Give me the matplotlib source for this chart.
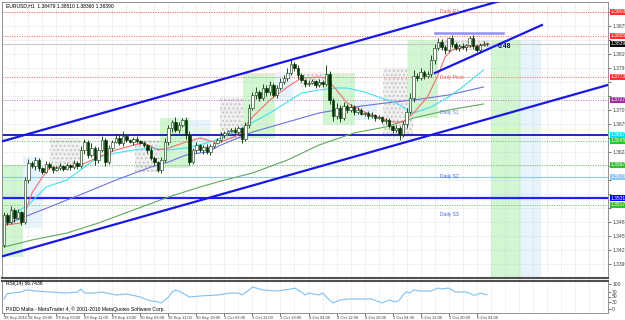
import matplotlib
matplotlib.use("Agg")
import matplotlib.pyplot as plt
from matplotlib.patches import Rectangle

plt.rcParams["font.family"] = ["Liberation Sans", "DejaVu Sans"]

# prices are kept in pips above BASE
BASE = 1.33
PIP = 0.0001

first_open = 137
close_pips = [197, 183, 207, 191, 203, 183, 267, 301, 295, 307,
              291, 283, 299, 293, 287, 291, 295, 289, 297, 293,
              301, 295, 327, 343, 317, 331, 307, 327, 347, 303,
              331, 343, 351, 341, 355, 347, 343, 349, 345, 341,
              337, 327, 311, 303, 287, 307, 343, 371, 383, 367,
              377, 387, 357, 303, 327, 337, 327, 333, 323, 335,
              341, 347, 357, 361, 365, 367, 363, 371, 349, 377,
              411, 437, 443, 431, 451, 443, 457, 437, 451, 463,
              471, 481, 499, 491, 477, 467, 459, 461, 465, 457,
              463, 459, 479, 427, 395, 411, 391, 415, 407, 413,
              403, 407, 399, 401, 395, 397, 391, 393, 385, 387,
              375, 367, 371, 359, 379, 403, 431, 475, 471, 483,
              475, 479, 507, 531, 543, 533, 527, 551, 539, 531,
              535, 533, 537, 551, 535, 527, 537, 539, 539]
wick_hi = [6, 4, 8, 4, 6, 2, 6, 8, 4, 6,
           4, 2, 6, 4, 2, 4, 6, 2, 4, 2,
           6, 4, 8, 6, 4, 10, 4, 6, 8, 4,
           6, 4, 8, 6, 10, 4, 2, 4, 6, 2,
           4, 2, 6, 4, 2, 6, 8, 6, 4, 10,
           6, 4, 6, 8, 4, 6, 2, 4, 6, 4,
           2, 4, 6, 4, 2, 4, 6, 4, 2, 6,
           8, 6, 10, 4, 8, 6, 8, 4, 6, 8,
           6, 10, 8, 4, 6, 4, 2, 6, 4, 2,
           6, 4, 18, 6, 4, 10, 6, 8, 4, 6,
           4, 6, 4, 2, 4, 6, 2, 4, 2, 4,
           4, 2, 6, 4, 6, 8, 10, 12, 6, 8,
           4, 6, 10, 8, 8, 6, 4, 2, 6, 4,
           4, 6, 2, 4, 6, 2, 4, 6, 2]
wick_lo = [4, 6, 4, 8, 2, 6, 4, 6, 4, 8,
           6, 4, 2, 4, 6, 2, 4, 4, 2, 6,
           4, 6, 4, 8, 6, 4, 10, 6, 4, 8,
           4, 6, 2, 4, 6, 4, 2, 6, 4, 2,
           4, 6, 4, 6, 4, 6, 4, 6, 8, 4,
           6, 4, 8, 6, 4, 6, 4, 8, 4, 6,
           4, 2, 4, 6, 4, 2, 4, 6, 8, 4,
           6, 4, 8, 6, 4, 8, 6, 4, 6, 4,
           4, 6, 4, 6, 8, 4, 6, 4, 2, 6,
           4, 6, 4, 8, 10, 6, 8, 4, 6, 4,
           6, 4, 2, 4, 6, 4, 6, 2, 4, 6,
           4, 6, 4, 12, 6, 8, 4, 8, 6, 4,
           6, 4, 6, 8, 4, 6, 8, 4, 6, 4,
           6, 4, 8, 4, 6, 4, 6, 2, 4]

# moving averages, read at a few bars
ma_red_bar = [0, 5, 6, 8, 11, 13, 18, 22, 27, 32, 37, 40, 44, 47, 52, 56, 60, 62, 67, 71,
              76, 81, 85, 90, 92, 95, 98, 103, 107, 111, 114, 117, 121, 124, 126, 128, 131, 136, 138]
ma_red = [177, 181, 201, 241, 273, 291, 293, 297, 313, 327, 337, 341, 327, 331, 343, 351, 343, 343, 357, 393,
          427, 453, 471, 473, 471, 447, 421, 403, 393, 383, 383, 401, 433, 477, 513, 527, 531, 537, 539]
ma_cyan_bar = [2, 7, 12, 18, 23, 27, 32, 37, 42, 47, 52, 58, 62, 67, 76, 85, 90, 95, 98, 103,
               107, 112, 117, 122, 127, 131, 137]
ma_cyan = [197, 217, 253, 267, 293, 313, 321, 327, 331, 327, 331, 341, 351, 367, 401, 441, 447, 451, 451, 443,
           433, 421, 401, 413, 433, 453, 487]
ma_blue_bar = [0, 5, 13, 23, 32, 42, 47, 52, 58, 62, 71, 81, 90, 100, 109, 117, 127, 137]
ma_blue = [177, 191, 213, 241, 267, 293, 303, 317, 323, 337, 363, 383, 401, 413, 421, 427, 437, 453]
ma_green_bar = [0, 8, 18, 27, 37, 47, 56, 62, 71, 81, 90, 100, 109, 117, 127, 137]
ma_green = [133, 147, 161, 181, 207, 233, 253, 265, 281, 307, 337, 361, 373, 391, 407, 419]

rsi_bar = [0, 1, 5, 6, 7, 9, 13, 18, 21, 22, 23, 26, 28, 32, 35, 39, 41, 44, 45, 47,
           48, 49, 50, 51, 53, 56, 61, 65, 67, 68, 70, 71, 74, 78, 82, 83, 85, 86, 87, 90,
           91, 93, 94, 96, 98, 102, 105, 108, 110, 112, 113, 114, 115, 116, 117, 119, 122, 124, 125, 127,
           129, 132, 133, 134, 135, 136, 137, 138]
rsi = [40, 62, 68, 76, 76, 72, 68, 64, 68, 80, 64, 64, 68, 56, 60, 48, 36, 28, 24, 48,
       68, 76, 72, 64, 48, 52, 56, 64, 64, 56, 76, 88, 76, 72, 80, 84, 68, 56, 64, 56,
       64, 36, 24, 36, 40, 40, 40, 24, 36, 28, 36, 56, 68, 64, 76, 72, 72, 84, 80, 84,
       68, 68, 64, 56, 56, 64, 60, 57]

# session boxes: start bar, end bar, low, high (pips), kind
box_x0 = [-0.6, 5.4, 13.1, 37.4, 44.6, 53.1, 61.7, 68.3, 77.4, 84.6, 91.1, 100.3, 108.3, 115.4, 124.6, 139.1, 147.7]
box_x1 = [5.4, 10.9, 21.7, 44.6, 53.1, 58.9, 68.3, 77.4, 82.6, 91.1, 100.3, 106.6, 116.9, 124.0, 138.9, 147.7, 153.4]
box_lo = [113, 171, 293, 283, 291, 327, 347, 351, 427, 453, 377, 387, 353, 391, 527, 71, 71]
box_hi = [297, 313, 351, 347, 391, 387, 433, 481, 483, 483, 481, 427, 491, 547, 547, 547, 547]
box_kind = ["ldn", "ny", "asia", "asia", "ldn", "ny", "asia", "ldn", "ny", "asia", "ldn", "ny", "asia", "ldn", "asia", "ldn", "ny"]

# horizontal levels
dot_levels = [603, 555, 473, 427, 345, 297, 217]
dot_colors = ["#ff6060", "#ff6060", "#ff6060", "#c070c0", "#60c060", "#60c060", "#60c060"]
solid_levels = [539, 357, 273, 231]
solid_colors = ["#c8c8c8", "#0000b0", "#8cc8f0", "#2020ff"]
solid_widths = [0.8, 1.2, 0.8, 1.6]

tag_levels = [603, 555, 539, 473, 427, 357, 345, 297, 273, 231, 217]
tag_colors = ["#ff3030", "#ff3030", "#000000", "#ff3030", "#a030a0", "#00e0ff",
              "#30c030", "#30c030", "#90c8f0", "#0000ff", "#30c030"]

pivot_names = ["Daily R1", "Daily Pivot", "Daily S1", "Daily S2", "Daily S3"]
pivot_levels = [603, 473, 401, 273, 197]
pivot_colors = ["#e06060", "#e06060", "#6080c0", "#4060e0", "#4060e0"]

price_ticks = [603 - 28 * k for k in range(19)]

time_bars = [0, 7, 15, 23, 31, 39, 47, 55, 63, 71, 79, 87, 95, 103, 111, 119, 127, 135]
time_labels = ["28 Sep 2010", "28 Sep 19:00", "29 Sep 03:00", "29 Sep 11:00", "29 Sep 19:00",
               "30 Sep 03:00", "30 Sep 11:00", "30 Sep 19:00", "1 Oct 03:00", "1 Oct 11:00",
               "1 Oct 19:00", "4 Oct 04:00", "4 Oct 12:00", "4 Oct 20:00", "5 Oct 04:00",
               "5 Oct 12:00", "5 Oct 20:00", "6 Oct 04:00"]

# trend lines (bar, pips)
channels = [((-1.2, 343), (142.7, 627)), ((-1.2, 113), (173.0, 458))]
small_line = ((123.1, 481), (153.7, 577))
lavender = ((123.1, 142.6), 561)


def px(p):
    return BASE + p * PIP


W, H = 625, 320
fig = plt.figure(figsize=(W / 100, H / 100), dpi=100)


def axbox(x0, y0, x1, y1):
    return [x0 / W, 1 - y1 / H, (x1 - x0) / W, (y1 - y0) / H]


ax = fig.add_axes(axbox(2, 2, 608, 278))
rx = fig.add_axes(axbox(2, 281, 608, 313))
FS = 3.6

ax.set_xlim(-0.57, 172.57)
ax.set_ylim(px(71), px(623))

# sessions
for x0, x1, lo, hi, kind in zip(box_x0, box_x1, box_lo, box_hi, box_kind):
    if kind == "asia":
        r = Rectangle((x0, px(lo)), x1 - x0, px(hi) - px(lo), facecolor="#f2f2f2",
                      edgecolor="#c8c8c8", hatch="....", lw=0, zorder=0.5)
    elif kind == "ldn":
        r = Rectangle((x0, px(lo)), x1 - x0, px(hi) - px(lo), facecolor="#d2f5d2",
                      lw=0, zorder=0.5)
    else:
        r = Rectangle((x0, px(lo)), x1 - x0, px(hi) - px(lo), facecolor="#e8f4fc",
                      lw=0, zorder=0.5)
    ax.add_patch(r)

# grid
for b in range(3, 173, 4):
    ax.axvline(b, color="#c8c8c8", lw=0.5, ls=(0, (1, 2)), zorder=1)
    rx.axvline(b, color="#c8c8c8", lw=0.5, ls=(0, (1, 2)), zorder=1)
for t in price_ticks:
    ax.axhline(px(t), color="#c8c8c8", lw=0.5, ls=(0, (1, 2)), zorder=1)

for lv, c in zip(dot_levels, dot_colors):
    ax.axhline(px(lv), color=c, lw=0.7, ls=(0, (1, 1.5)), zorder=2)
for lv, c, w in zip(solid_levels, solid_colors, solid_widths):
    ax.axhline(px(lv), color=c, lw=w, zorder=2)

# moving averages
ax.plot(ma_green_bar, [px(v) for v in ma_green], color="#60a860", lw=0.8, zorder=3)
ax.plot(ma_blue_bar, [px(v) for v in ma_blue], color="#7070e0", lw=0.8, zorder=3)
ax.plot(ma_cyan_bar, [px(v) for v in ma_cyan], color="#40e0f0", lw=0.8, zorder=3)
ax.plot(ma_red_bar, [px(v) for v in ma_red], color="#f07070", lw=0.8, zorder=3)

# candles
prev = first_open
for i, c in enumerate(close_pips):
    o = prev
    hi = max(o, c) + wick_hi[i]
    lo = min(o, c) - wick_lo[i]
    ax.vlines(i, px(lo), px(hi), color="#003000", lw=0.6, zorder=4)
    body = max(abs(c - o), 1)
    fill = "#ffffff" if c >= o else "#003000"
    ax.add_patch(Rectangle((i - 0.3, px(min(o, c))), 0.6, body * PIP, facecolor=fill,
                           edgecolor="#003000", lw=0.4, zorder=4.5))
    prev = c

# trend lines
for (b0, p0), (b1, p1) in channels:
    ax.plot([b0, b1], [px(p0), px(p1)], color="#1818e8", lw=1.6, zorder=5)
(b0, p0), (b1, p1) = small_line
ax.plot([b0, b1], [px(p0), px(p1)], color="#1818e8", lw=1.6, zorder=5)
ax.plot(lavender[0], [px(lavender[1])] * 2, color="#9090ff", lw=1.8, zorder=5)
ax.text(141.0, px(533), "0:48", color="#000080", fontsize=4.8, fontweight="bold",
        ha="left", va="center", zorder=6)

for name, lv, c in zip(pivot_names, pivot_levels, pivot_colors):
    ax.text(124.5, px(lv), name, color=c, fontsize=FS, ha="left", va="center", zorder=6)

ax.text(0.5, px(616), "EURUSD,H1  1.38479 1.38510 1.38360 1.38390", fontsize=FS,
        color="#000000", ha="left", va="center", zorder=6)

# price axis; the coloured level tags sit on top of the grid labels
ax.yaxis.tick_right()
ax.set_yticks([px(t) for t in price_ticks])
ax.set_yticklabels(["" if any(abs(t - g) < 12 for g in tag_levels) else "%.5f" % px(t)
                    for t in price_ticks])
ax.tick_params(axis="y", labelsize=FS, length=2, width=0.5, pad=1, colors="#404040")
ax.tick_params(axis="x", bottom=False, labelbottom=False)
for lv, c in zip(tag_levels, tag_colors):
    ax.text(1.004, px(lv), "%.5f" % px(lv), transform=ax.get_yaxis_transform(),
            fontsize=FS, color="white", ha="left", va="center", clip_on=False, zorder=7,
            bbox=dict(boxstyle="square,pad=0.15", facecolor=c, edgecolor="none"))

for s in ax.spines.values():
    s.set_color("#808080")
    s.set_linewidth(0.6)
ax.spines["bottom"].set_color("#505050")
ax.spines["bottom"].set_linewidth(1.5)

# RSI panel
rx.set_xlim(-0.57, 172.57)
rx.set_ylim(-16, 112)
rx.plot(rsi_bar, rsi, color="#80c0f0", lw=0.8, zorder=3)
rx.yaxis.tick_right()
rx.set_yticks([0, 30, 50, 70, 100])
rx.tick_params(axis="y", labelsize=FS, length=2, width=0.5, pad=1, colors="#404040")
rx.set_xticks(time_bars)
rx.set_xticklabels(time_labels, ha="left")
rx.tick_params(axis="x", labelsize=3.0, length=2, width=0.5, pad=0.5, colors="#404040")
for s in rx.spines.values():
    s.set_color("#808080")
    s.set_linewidth(0.6)
rx.spines["top"].set_color("#505050")
rx.spines["top"].set_linewidth(1.5)
rx.text(0.5, 104, "RSI(14) 56.7436", fontsize=FS, ha="left", va="center")
rx.text(0.5, -0.5, "PXDD Malta - MetaTrader 4, \u00a9 2001-2010 MetaQuotes Software Corp.",
        fontsize=FS, ha="left", va="center")

fig.savefig("out.png", dpi=100)
